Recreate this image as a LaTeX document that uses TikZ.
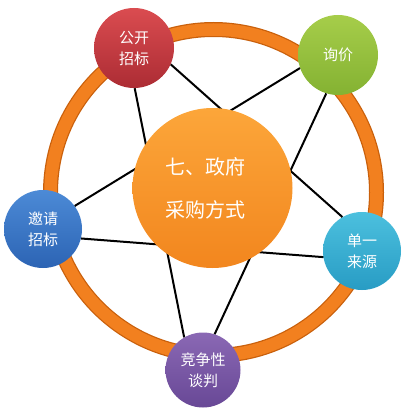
\documentclass[tikz,border=0pt]{standalone}
\usepackage{fontspec}
\newfontfamily\cjk{Noto Sans CJK SC}
\usepackage{tikz}
\usetikzlibrary{shapes,positioning}

\definecolor{ringorange}{HTML}{F2801F}
\definecolor{ringdark}{HTML}{C9600C}

\begin{document}
\begin{tikzpicture}[x=1pt,y=1pt]
                    \tikzstyle{every node}+=[inner sep=0pt]
                    \tikzstyle{way}=[circle, draw=none, text=white, align=center,
                        font=\cjk\fontsize{15}{21}\selectfont]
                    \tikzstyle{edge}=[black, line width=2pt]
                    \useasboundingbox (0,0) rectangle (409,-412);
                    % ring
                    \draw [ringdark, line width=15pt] (213.5,-192.5) circle (163);
                    \draw [ringorange, line width=12.5pt] (213.5,-192.5) circle (163);
                    % methods
                    \node [way, minimum size=80pt, top color={rgb,255:red,218;green,76;blue,80}, bottom color={rgb,255:red,172;green,44;blue,52}] (gkzb) at (134,-48) {公开\\招标};
                    \node [way, minimum size=80pt, top color={rgb,255:red,166;green,205;blue,74}, bottom color={rgb,255:red,132;green,178;blue,50}] (xj) at (338,-55) {询价};
                    \node [way, minimum size=78pt, top color={rgb,255:red,76;green,138;blue,214}, bottom color={rgb,255:red,44;green,100;blue,180}] (yqzb) at (43,-229) {邀请\\招标};
                    \node [way, minimum size=78pt, top color={rgb,255:red,76;green,192;blue,222}, bottom color={rgb,255:red,40;green,156;blue,196}] (dyly) at (362,-251) {单一\\来源};
                    \node [way, minimum size=75pt, top color={rgb,255:red,138;green,104;blue,180}, bottom color={rgb,255:red,104;green,72;blue,150}] (jzxtp) at (203,-370) {竞争性\\谈判};
                    % star
                    \draw [edge] (gkzb.-24) -- (dyly.120);
                    \draw [edge] (gkzb.-89) -- (jzxtp.120);
                    \draw [edge] (xj.-161) -- (yqzb.36);
                    \draw [edge] (xj.-107) -- (jzxtp.72);
                    \draw [edge] (yqzb.-14) -- (dyly.-171);
                    % centre
                    \node [way, minimum size=160pt, top color={rgb,255:red,252;green,166;blue,58}, bottom color={rgb,255:red,242;green,134;blue,30}] (zfcg) at (212.5,-188) {};
                    \node [text=white, align=center, font=\cjk\fontsize{20}{43}\selectfont] (zfcgtxt) at (205,-188) {七、政府\\采购方式};
                \end{tikzpicture}
\end{document}
